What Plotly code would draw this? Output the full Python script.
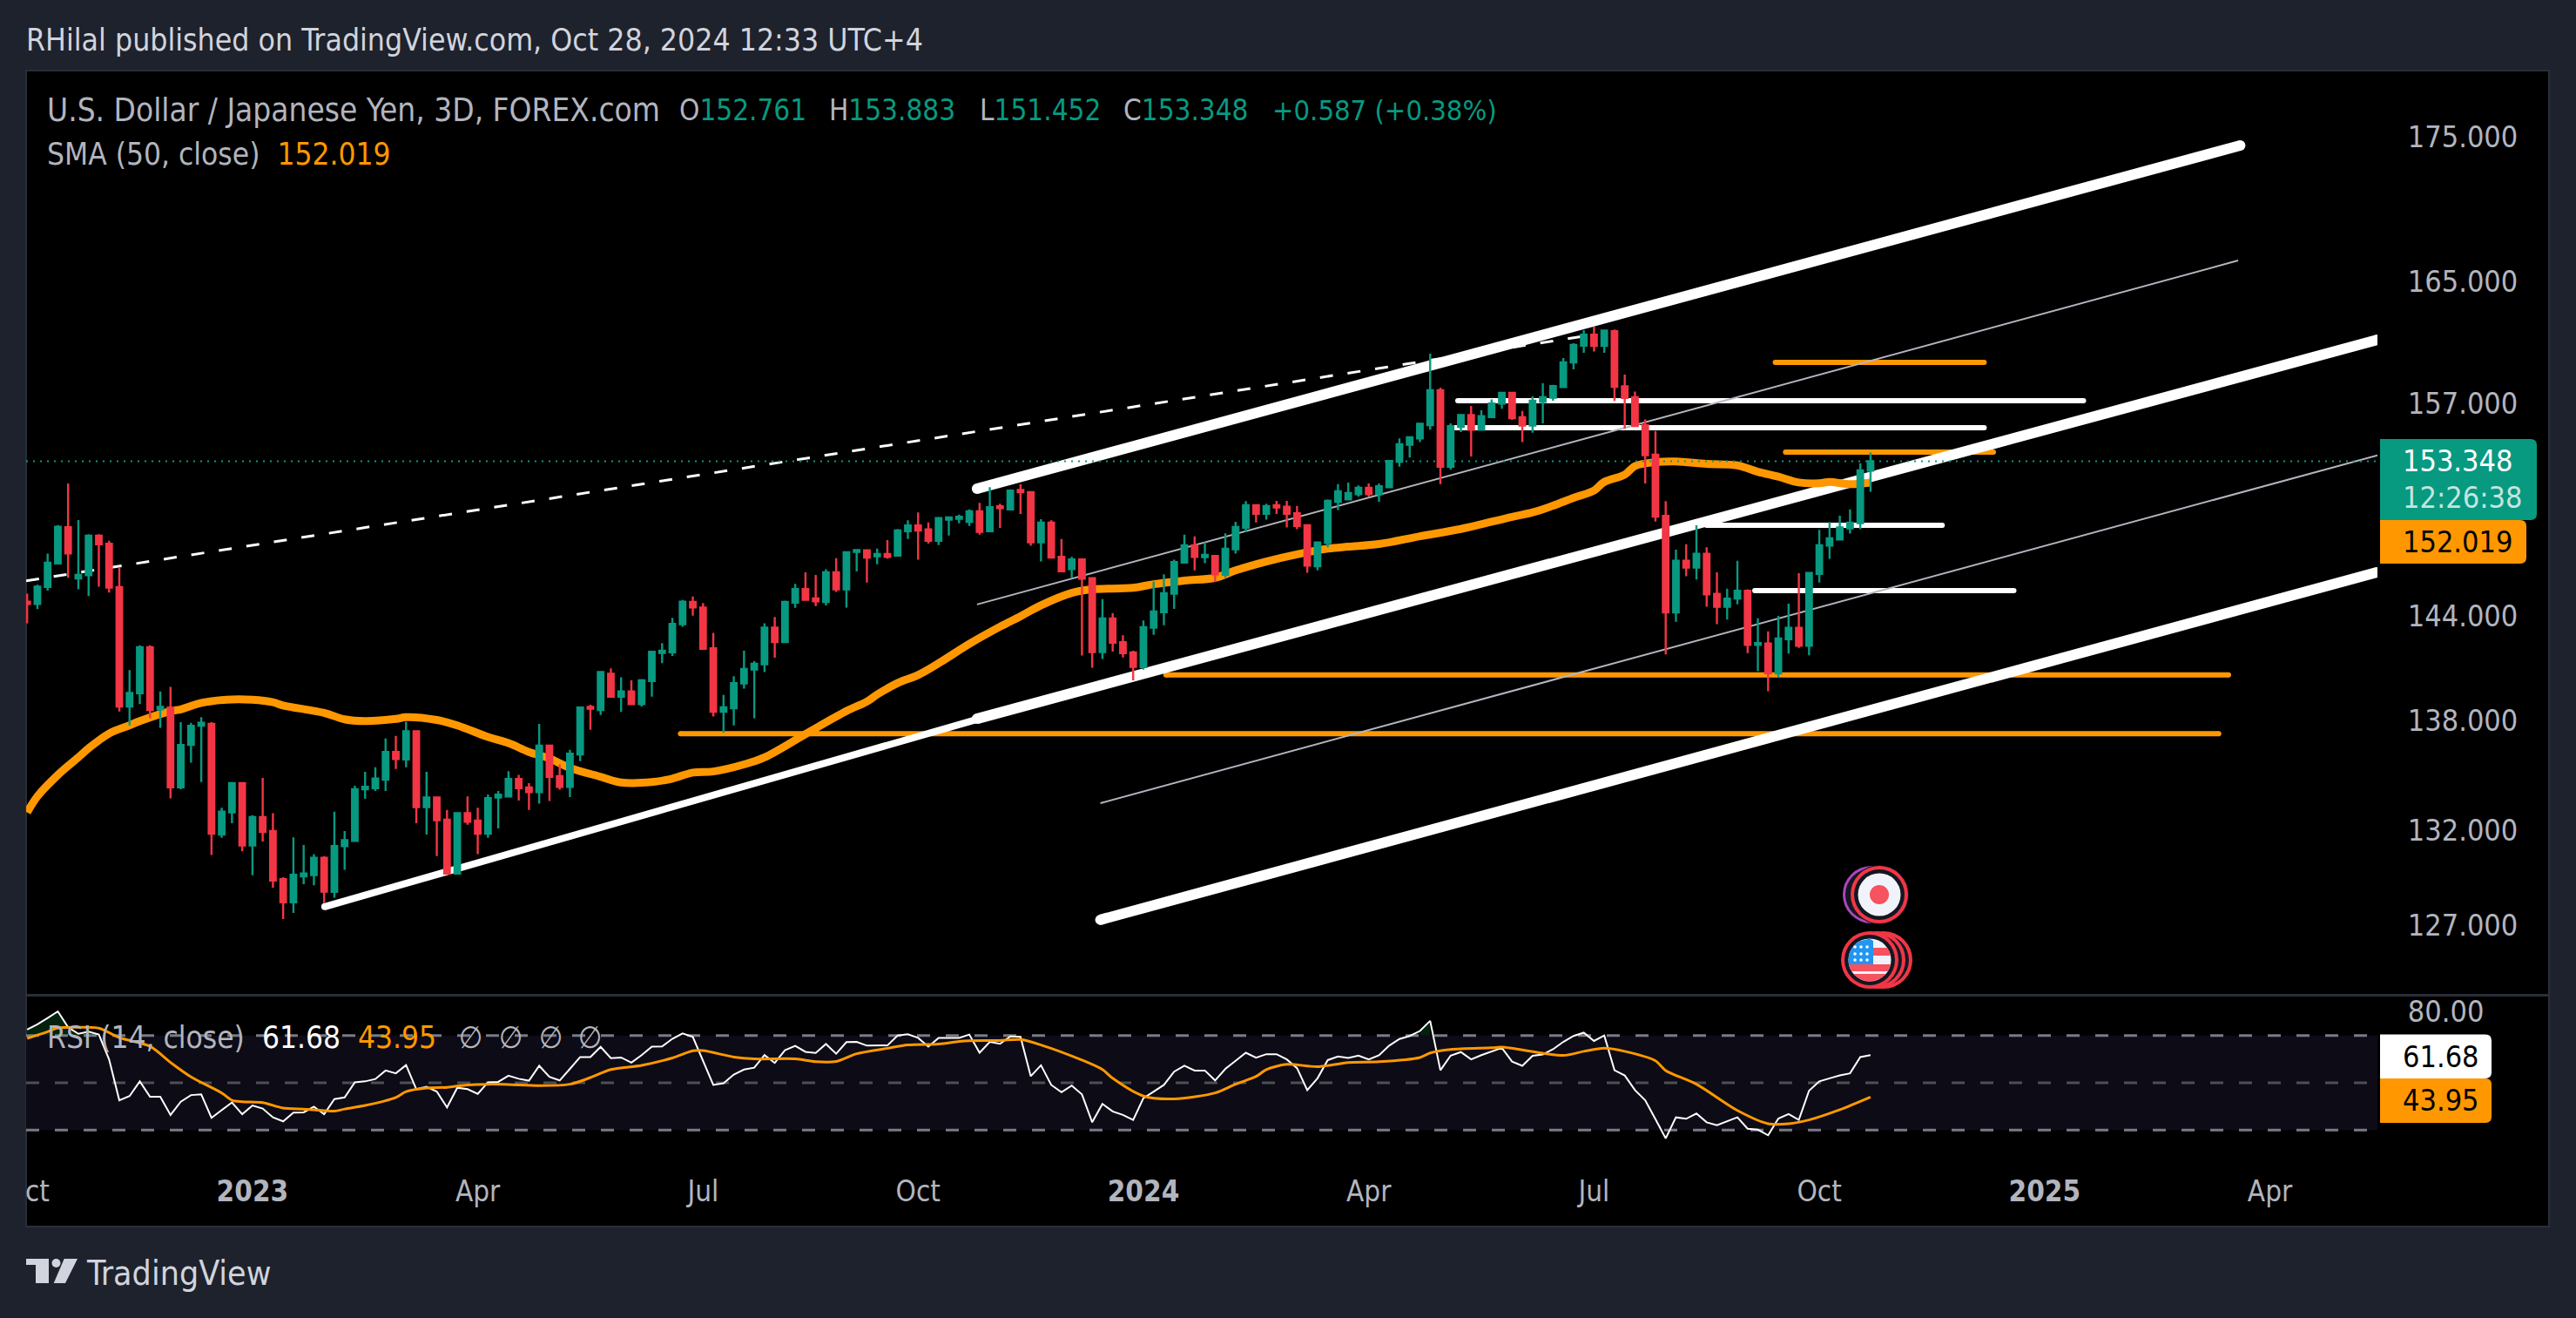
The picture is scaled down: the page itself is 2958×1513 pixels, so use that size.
import math
import numpy as np
import plotly.graph_objects as go

W, H = 2958, 1513

# ---------- price data (3D bars) ----------
open_ = [144.83,144.70,145.70,147.11,149.29,146.21,146.40,148.77,148.29,145.70,
138.79,139.54,142.18,138.63,138.73,134.30,136.64,137.71,137.81,131.75,
132.94,134.53,131.17,132.69,131.94,129.38,128.17,129.53,129.59,130.51,
128.71,131.13,131.41,134.20,134.26,134.72,136.25,135.84,137.40,133.23,
133.75,132.55,129.68,132.90,132.50,131.79,133.75,133.81,134.76,134.30,
134.04,136.60,134.92,134.33,136.11,138.77,138.59,140.65,139.34,139.64,
138.93,140.24,141.84,141.88,143.51,144.82,144.49,142.12,138.49,138.69,
140.10,140.90,141.20,143.32,142.47,144.78,145.58,145.03,144.82,146.57,
145.56,147.80,147.89,
147.53,147.67,147.58,149.04,149.39,149.15,148.46,149.75,149.80,149.62,150.26,149.04,150.56,150.37,151.57,151.43,148.37,149.57,147.50,146.77,147.34,146.22,141.90,143.85,142.47,141.88,141.03,143.31,144.22,145.30,147.15,148.20,147.48,147.55,146.43,147.95,149.25,150.63,150.10,150.63,150.54,150.14,149.41,146.94,148.34,150.84,150.99,151.30,151.70,151.30,151.74,153.32,154.38,154.78,155.62,157.84,153.00,155.51,156.25,155.33,156.12,156.99,157.67,156.12,155.59,157.10,157.36,158.04,159.64,160.73,161.45,160.71,
161.68,158.09,157.39,155.60,153.76,149.98,144.20,147.26,146.86,147.68,145.30,144.54,145.02,145.48,142.31,142.39,140.67,142.64,143.30,142.26,146.48,148.17,148.55,149.22,149.54,152.761]

high = [145.31,145.83,147.70,149.42,151.96,149.72,148.86,148.86,148.47,146.85,
140.86,142.29,142.29,139.64,139.90,137.91,137.87,138.19,137.91,133.19,
134.53,134.53,132.79,134.82,132.90,129.48,131.60,131.19,130.70,130.60,
132.98,131.94,134.39,135.15,135.41,137.00,137.14,137.93,137.40,135.15,
133.81,133.08,132.92,133.81,133.19,133.91,134.10,135.19,134.98,134.53,
137.81,136.64,135.56,136.37,138.77,138.89,140.75,140.96,140.45,140.28,
140.35,141.94,142.41,143.88,144.93,145.14,144.76,143.01,139.44,140.51,
141.98,141.37,143.57,143.94,144.89,145.89,146.57,146.42,146.76,147.42,
147.80,147.91,147.89,
147.99,148.51,149.18,149.71,150.19,149.57,149.89,149.89,150.05,150.37,150.78,151.74,150.72,151.61,151.92,151.48,149.78,149.71,148.57,147.50,147.34,146.22,144.99,144.16,142.87,141.97,143.73,146.03,146.46,147.33,148.83,148.73,148.37,147.60,148.92,149.62,150.88,150.66,150.72,150.89,150.89,150.58,149.41,148.41,150.99,151.92,152.02,151.84,151.97,151.97,153.41,154.78,154.85,155.77,160.20,158.01,155.73,156.28,156.84,156.56,157.25,157.73,157.67,156.51,157.45,158.29,158.19,159.92,160.88,161.74,161.97,161.78,
161.78,158.85,157.76,155.98,155.24,150.88,147.93,148.26,149.40,148.08,146.57,145.60,147.26,145.57,143.86,143.10,144.00,144.71,146.52,146.57,149.13,149.60,149.99,150.37,153.22,153.883]

low = [143.57,144.40,145.49,147.11,146.25,145.56,145.16,145.72,145.37,138.51,
137.73,138.93,138.13,137.59,133.70,134.20,135.66,134.59,130.66,131.57,
132.36,130.85,129.59,131.38,128.93,127.30,127.61,129.12,129.06,128.13,
128.41,129.87,131.38,133.68,134.10,134.10,135.31,135.41,132.36,131.75,
130.60,129.68,129.68,132.27,130.70,131.57,132.08,133.77,133.58,133.08,
133.42,133.56,134.18,133.77,135.74,137.48,138.31,139.30,138.49,138.89,
138.79,139.34,141.26,141.67,143.36,144.01,142.08,138.23,137.32,137.73,
139.80,138.13,140.75,141.57,142.45,144.47,144.95,144.57,144.61,145.41,
144.49,146.63,145.97,
147.05,147.39,147.58,148.57,147.33,148.30,148.21,148.78,149.52,149.36,148.83,149.04,149.25,150.37,150.10,148.16,147.22,147.41,146.63,146.25,141.70,141.00,141.50,141.93,141.58,140.27,140.88,142.89,143.45,144.41,147.10,146.69,147.12,145.99,146.25,147.69,149.00,149.57,149.75,150.10,149.27,149.16,146.55,146.69,148.07,150.33,150.99,151.16,151.16,150.84,151.70,153.00,153.58,154.55,155.33,151.92,152.83,155.18,153.65,155.33,156.12,156.65,155.95,154.55,155.14,155.73,157.17,157.97,159.19,160.26,160.35,160.26,
157.16,155.40,155.56,151.97,149.63,141.76,143.66,146.34,146.14,144.54,143.52,143.78,144.68,141.84,140.80,139.65,140.42,141.81,142.14,141.71,145.96,147.38,148.48,148.90,149.17,151.452]

close = [144.70,145.72,147.15,149.31,147.70,146.42,148.77,148.25,145.66,138.79,
139.56,142.18,138.59,138.77,134.30,136.64,137.71,137.87,131.79,132.98,
134.53,131.17,132.69,131.89,129.31,128.17,129.61,129.68,130.51,128.73,
131.13,131.45,134.20,134.33,134.78,136.25,135.86,137.40,133.23,133.75,
132.52,129.68,132.90,132.44,131.79,133.71,133.91,134.76,134.26,134.04,
136.60,134.88,134.33,136.15,138.73,138.67,140.75,139.34,139.64,138.93,
140.28,141.92,141.98,143.53,144.84,144.49,142.08,138.49,138.75,140.12,
140.92,141.22,143.32,142.47,144.82,145.58,144.95,144.86,146.57,145.56,
147.78,147.91,147.46,
147.67,147.50,149.09,149.39,149.09,148.46,149.85,149.89,149.92,150.26,149.00,150.51,150.45,151.52,151.43,148.37,149.57,147.46,146.63,147.34,146.20,141.90,143.85,142.44,141.83,141.05,143.34,144.26,145.34,147.19,148.20,147.50,147.62,146.46,147.99,149.30,150.63,150.10,150.58,150.49,150.10,149.36,146.98,148.37,150.90,151.48,151.38,151.70,151.30,151.79,153.36,154.41,154.85,155.70,157.84,153.00,155.55,156.25,155.33,156.19,156.99,157.67,156.06,155.59,157.17,157.40,158.10,159.64,160.77,161.45,160.71,161.72,
158.06,157.35,155.56,153.73,149.93,144.20,147.26,146.86,147.68,145.26,144.54,145.02,145.48,142.31,142.42,140.67,142.68,143.30,142.26,146.54,148.20,148.61,149.27,149.57,152.78,153.348]

assert len(open_) == len(high) == len(low) == len(close), (len(open_), len(high), len(low), len(close))
bars = list(range(len(close)))

# SMA(50) readings: bar number and value
sma_bars = [0,1,3,5,6,8,10,11,14,15,17,20,22,24,25,29,31,33,36,37,40,42,45,47,49,51,53,56,58,61,63,65,67,70,72,76,80,82,
83,85,87,89,92,95,97,99,102,104,108,110,113,116,118,121,124,127,129,132,136,140,145,147,149,151,153,154,156,157,159,161,164,167,169,171,173,175,176,178,180]
sma_vals = [132.94,133.81,134.98,135.95,136.45,137.27,137.73,137.97,138.53,138.63,138.99,139.19,139.17,139.03,138.85,138.43,138.07,137.97,138.09,138.19,138.03,137.73,137.08,136.74,136.25,135.89,135.37,134.88,134.57,134.59,134.78,135.11,135.17,135.56,135.95,137.24,138.53,139.07,
139.47,140.12,140.58,141.25,142.37,143.37,143.98,144.62,145.35,145.56,145.65,145.87,146.08,146.25,146.69,147.22,147.65,147.99,148.11,148.27,148.74,149.18,149.92,150.19,150.60,151.08,151.53,152.06,152.51,153.05,153.29,153.33,153.18,153.09,152.69,152.39,152.03,151.98,152.06,151.92,152.019]

# RSI(14) per bar
rsi = [72.5,74.7,77.4,80.2,73.5,70.7,71.6,70.4,59.9,42.6,44.4,50.6,44.1,44.1,36.4,42.0,44.8,45.1,35.2,38.5,
41.7,36.7,40.4,39.1,35.4,33.7,37.4,37.5,39.9,36.7,43.1,43.8,50.2,50.6,51.6,55.2,54.0,57.5,47.3,48.3,
46.3,39.6,47.9,47.3,45.3,50.2,50.4,53.0,51.7,50.9,57.2,52.5,51.0,55.9,60.9,60.9,65.2,60.4,60.7,58.5,
61.7,65.3,65.4,68.6,70.9,69.4,59.3,49.1,49.8,53.5,55.6,56.4,61.7,58.4,63.8,65.6,63.1,62.6,66.4,62.3,
67.2,67.3,65.7,65.7,65.8,70.0,70.5,69.0,65.3,69.0,69.0,
69.0,70.4,62.7,67.3,66.5,69.6,69.4,52.8,57.4,49.1,46.0,48.8,45.1,33.3,41.1,37.9,36.4,34.3,43.5,46.3,
49.1,54.7,57.2,55.2,55.2,51.0,55.9,59.3,62.7,60.6,62.1,62.1,59.9,56.2,46.9,51.9,59.6,61.1,60.5,61.5,
59.9,61.6,65.7,68.5,69.8,71.9,76.2,55.3,61.5,63.0,59.9,61.7,63.3,64.8,59.0,57.2,61.4,62.0,64.2,67.3,
69.8,71.2,67.7,70.0,55.3,53.1,46.9,42.6,34.6,26.5,35.4,34.8,37.0,33.3,32.1,33.7,35.4,30.6,30.2,27.8,
34.9,36.8,34.3,46.7,50.6,51.9,53.1,54.0,60.9,61.68]
assert len(rsi) == len(close), len(rsi)

rsi_ma_bars = [0,2,3,5,7,9,12,14,16,19,20,21,23,25,27,28,30,31,33,36,37,39,41,43,45,47,50,53,55,57,60,63,65,66,69,71,75,77,79,81,84,86,89,
91,92,95,97,99,103,105,106,109,112,116,118,120,121,123,126,129,132,136,137,139,143,144,150,152,154,156,159,160,163,167,170,172,174,177,180]
rsi_ma_vals = [68.8,71.6,73.2,73.5,73.1,69.1,65.4,58.6,52.5,45.7,42.6,42.0,41.6,39.3,38.9,38.6,38.0,38.9,40.4,43.8,46.3,47.8,48.1,49.1,49.4,49.3,48.8,49.4,52.2,55.6,57.4,60.5,63.5,63.6,60.9,60.1,60.1,58.9,59.0,62.3,64.6,66.0,66.4,
67.5,67.8,67.9,68.3,66.0,59.6,55.6,51.9,44.4,43.2,45.7,49.4,52.7,55.6,57.8,56.8,58.6,58.9,60.7,62.6,64.1,64.8,65.1,61.6,63.3,64.6,63.3,59.3,55.2,49.4,38.3,32.7,32.7,34.3,38.6,43.95]

# Drawing tools: (bar0, price0, bar1, price1)
support_line = (29.06,127.94,92.75,138.06)
thick_lines = [(92.75,138.10,229.5,161.11),(92.75,151.64,216.1,174.36),(104.8,127.26,229.5,146.58)]
thin_lines = [(92.75,144.67,215.9,166.39),(104.8,133.44,229.5,153.72)]
dashed_line = (-0.1,146.07,152.96,161.45)
white_levels = [(139.7,200.8,157.17),(139.0,191.1,155.45),(164.0,187.0,149.40),(168.7,194.0,145.49)]
orange_levels = [(170.7,191.1,159.64),(171.7,192.0,153.91),(111.2,214.96,140.58),(63.8,214.0,137.27)]

price_ticks = [127,132,138,144,157,165,175]
time_tick_bars = [0,22,44,66,87,109,131,153,175,197,219]
time_tick_text = ["Oct","<b>2023</b>","Apr","Jul","Oct","<b>2024</b>","Apr","Jul","Oct","<b>2025</b>","Apr"]
last_close, last_sma, last_rsi, last_rsi_ma = 153.348, 152.019, 61.68, 43.95

# ---------- styles / layout constants ----------
BG, PANEL, EDGE = "#1e222d", "#000000", "#2a2e39"
TXT, TITLE = "#b2b5be", "#d1d4dc"
UP, DOWN, ORANGE = "#089981", "#f23645", "#ff9800"
FONT = "DejaVu Sans Condensed, DejaVu Sans, sans-serif"
FS = 35
X_L, X_R = 30, 2730
PANEL_T, PANEL_B, PANEL_R = 81, 1408, 2927
DIV = 1143
RSI_B = 1337
BAR_L, BAR_R = -0.1, 229.5

px = lambda x: x / W
py = lambda y: 1 - y / H
def yprice(y):
    return 175 * math.exp(-(y - 156.6) / 2823)
rsi_at = lambda y: 50 + (1243 - y) / 2.715

fig = go.Figure()

def line(x, y, color, width, dash=None, caps=False, xa="x", ya="y"):
    fig.add_trace(go.Scatter(x=x, y=y, xaxis=xa, yaxis=ya, mode="lines+markers" if caps else "lines",
                             line=dict(color=color, width=width, dash=dash),
                             marker=dict(color=color, size=width) if caps else None,
                             hoverinfo="skip", showlegend=False))

for b0, b1, p in orange_levels:
    line([b0, b1], [p, p], ORANGE, 6, caps=True)
line([dashed_line[0], dashed_line[2]], [dashed_line[1], dashed_line[3]], "#ffffff", 3, dash="15px,17px")
for b0, b1, p in white_levels:
    line([b0, b1], [p, p], "#ffffff", 6, caps=True)
line([support_line[0], support_line[2]], [support_line[1], support_line[3]], "#ffffff", 8, caps=True)
for b0, p0, b1, p1 in thick_lines:
    line([b0, b1], [p0, p1], "#ffffff", 12, caps=True)
for b0, p0, b1, p1 in thin_lines:
    line([b0, b1], [p0, p1], "#b2b5be", 2)
fig.add_trace(go.Scatter(x=sma_bars, y=sma_vals, mode="lines", line=dict(color=ORANGE, width=9, shape="spline", smoothing=1.0),
                         hoverinfo="skip", showlegend=False))
line([BAR_L, BAR_R], [last_close, last_close], UP, 2, dash="2px,6px")

# candles on an overlaid axis pair so they are painted above the lines
fig.add_trace(go.Candlestick(x=bars, open=open_, high=high, low=low, close=close, xaxis="x3", yaxis="y3",
                             increasing=dict(line=dict(color=UP, width=2.4), fillcolor=UP),
                             decreasing=dict(line=dict(color=DOWN, width=2.4), fillcolor=DOWN),
                             hoverinfo="skip", showlegend=False))

# RSI over/under-band shading
def band_fill(level, sign, color):
    run = []
    for i in range(len(rsi)):
        if sign * (rsi[i] - level) > 0:
            run.append(i)
        elif run:
            xs = [run[0]] + run + [run[-1]]
            ys = [level] + [rsi[k] for k in run] + [level]
            fig.add_trace(go.Scatter(x=xs, y=ys, xaxis="x2", yaxis="y2", mode="lines", fill="toself", fillcolor=color,
                                     line=dict(width=0), hoverinfo="skip", showlegend=False))
            run = []
band_fill(70, 1, "rgba(8,153,60,0.22)")
band_fill(30, -1, "rgba(242,54,69,0.18)")
line(bars, rsi, "#ffffff", 2, xa="x2", ya="y2")
fig.add_trace(go.Scatter(x=rsi_ma_bars, y=rsi_ma_vals, xaxis="x2", yaxis="y2", mode="lines",
                         line=dict(color=ORANGE, width=3, shape="spline", smoothing=0.8), hoverinfo="skip", showlegend=False))

# ---------- shapes ----------
shapes = []
def rect(x0, y0, x1, y1, fill, layer="below", ln=None, lw=0):
    shapes.append(dict(type="rect", xref="paper", yref="paper", x0=px(x0), x1=px(x1), y0=py(y0), y1=py(y1),
                       fillcolor=fill, layer=layer, line=dict(color=ln or fill, width=lw)))
def rrect(x0, y0, x1, y1, fill, r=7):
    p = (f"M {px(x0)} {py(y0)} L {px(x1-r)} {py(y0)} Q {px(x1)} {py(y0)} {px(x1)} {py(y0+r)} "
         f"L {px(x1)} {py(y1-r)} Q {px(x1)} {py(y1)} {px(x1-r)} {py(y1)} L {px(x0)} {py(y1)} Z")
    shapes.append(dict(type="path", xref="paper", yref="paper", path=p, fillcolor=fill, layer="above", line=dict(width=0)))
def circ(cx, cy, r, fill):
    shapes.append(dict(type="circle", xref="paper", yref="paper", x0=px(cx-r), x1=px(cx+r), y0=py(cy-r), y1=py(cy+r),
                       fillcolor=fill, layer="above", line=dict(width=0)))
def stripe(cx, cy, r, top, bot, fill, xmax=None):
    ys = np.linspace(top, bot, 12)
    right = [(min(math.sqrt(max(r*r-v*v, 0)), xmax if xmax is not None else 1e9), v) for v in ys]
    left = [(-math.sqrt(max(r*r-v*v, 0)), v) for v in ys[::-1]]
    pts = right + left
    d = "M " + " L ".join(f"{px(cx+a)} {py(cy+b)}" for a, b in pts) + " Z"
    shapes.append(dict(type="path", xref="paper", yref="paper", path=d, fillcolor=fill, layer="above", line=dict(width=0)))

rect(X_L, PANEL_T, PANEL_R, PANEL_B, PANEL, ln=EDGE, lw=2)
# RSI band and levels (through the axes)
shapes.append(dict(type="rect", xref="x2", yref="y2", x0=BAR_L, x1=BAR_R, y0=30, y1=70, fillcolor="#0d0b15", layer="below", line=dict(width=0)))
for lvl, col in [(70, "#787b86"), (50, "#4d4f57"), (30, "#787b86")]:
    shapes.append(dict(type="line", xref="x2", yref="y2", x0=BAR_L, x1=BAR_R, y0=lvl, y1=lvl, layer="below",
                       line=dict(color=col, width=3, dash="15px,18px")))
# page gutters, mask clipped axis text
rect(0, 0, X_L-1, H, BG, layer="above")
rect(X_L, DIV-2, PANEL_R, DIV+1, EDGE, layer="above")
# price & RSI value badges
rrect(2733, 504, 2913, 597, UP)
rrect(2733, 597, 2901, 647, ORANGE)
rrect(2733, 1187.5, 2861, 1238, "#ffffff")
rrect(2733, 1238, 2861, 1289, ORANGE)

# event icons
JP = (2158, 1027)
circ(JP[0]-9, JP[1], 33, "#ab47bc"); circ(JP[0]-9, JP[1], 30, "#131722")
circ(JP[0], JP[1], 34, "#131722"); circ(JP[0], JP[1], 33, "#f23645"); circ(JP[0], JP[1], 29, "#131722")
circ(JP[0], JP[1], 24.5, "#f0f3fa"); circ(JP[0], JP[1], 11, "#f7525f")
US = (2147, 1102)
for off in (16, 8, 0):
    circ(US[0]+off, US[1], 33, "#f23645"); circ(US[0]+off, US[1], 29, "#131722")
R = 24.5
circ(US[0], US[1], R, "#f0f3fa")
for t, b in [(-14, -5), (5, 13), (16, 24.5)]:
    stripe(US[0], US[1], R, t, b, "#f7525f")
stripe(US[0], US[1], R, -24.5, 5, "#2196f3", xmax=4)
for a in (-17, -10, -3):
    for b in (-15, -7, 0):
        circ(US[0]+a, US[1]+b, 1.8, "#ffffff")

# TradingView logo
def poly(pts, fill):
    d = "M " + " L ".join(f"{px(a)} {py(b)}" for a, b in pts) + " Z"
    shapes.append(dict(type="path", xref="paper", yref="paper", path=d, fillcolor=fill, layer="above", line=dict(width=0)))
poly([(30,1445),(56,1445),(56,1473),(41,1473),(41,1452),(30,1452)], TITLE)
circ(64.5, 1450, 5, TITLE)
poly([(73.7,1445),(89,1445),(75,1473),(61.7,1473)], TITLE)

# ---------- text ----------
def span(t, c):
    return f'<span style="color:{c}">{t}</span>'
annos = []
def note(x, y, text, color=TXT, size=FS):
    annos.append(dict(xref="paper", yref="paper", x=px(x), y=py(y), xanchor="left", yanchor="middle", text=text,
                      showarrow=False, align="left", font=dict(family=FONT, size=size, color=color)))
sp = "\u00a0\u00a0"
note(28, 45, "RHilal published on TradingView.com, Oct 28, 2024 12:33 UTC+4", TITLE, 35.3)
note(52, 127, "U.S. Dollar / Japanese Yen, 3D, FOREX.com", TXT, 36.7)
for x, lab, val in [(778, "O", "152.761"), (950, "H", "153.883"), (1123, "L", "151.452"), (1288, "C", "153.348")]:
    note(x, 127, lab + span(val, UP), TXT, 33)
note(1459, 127, "+0.587 (+0.38%)", UP, 32.5)
note(52, 177, "SMA (50, close)" + sp + span("152.019", ORANGE))
note(52, 1191, "RSI (14, close)" + sp + span("61.68", "#ffffff") + sp + span("43.95", ORANGE))
for x in (525, 571, 617, 662):
    note(x, 1191, "∅")
TF = 34
note(2757, 529, "153.348", "#ffffff", TF)
note(2757, 571, "12:26:38", "#c4e5df", TF)
note(2757, 622, "152.019", "#000000", TF)
note(2757, 1213, "61.68", "#000000", TF)
note(2757, 1263, "43.95", "#000000", TF)
note(97, 1461, "TradingView", TITLE, 39)

price_range = [math.log10(yprice(DIV)), math.log10(yprice(PANEL_T))]
xdom = [px(X_L), px(X_R)]

fig.update_layout(
    template="none",
    width=W, height=H, autosize=False, margin=dict(l=0, r=0, t=0, b=0, pad=0),
    paper_bgcolor=BG, plot_bgcolor="rgba(0,0,0,0)", showlegend=False, hovermode=False,
    boxgap=0.22, font=dict(family=FONT, size=FS, color=TXT),
    shapes=shapes, annotations=annos,
    xaxis=dict(domain=xdom, range=[BAR_L, BAR_R], anchor="y", showgrid=False, zeroline=False, showticklabels=False, automargin=False,
               ticks="", showline=False, rangeslider=dict(visible=False)),
    yaxis=dict(domain=[py(DIV), py(PANEL_T)], type="log", range=price_range, anchor="x", side="right", showgrid=False, zeroline=False, automargin=False,
               tickmode="array", tickvals=price_ticks, ticktext=[f"{t}.000" for t in price_ticks],
               ticks="outside", ticklen=27, tickcolor="rgba(0,0,0,0)", tickfont=dict(family=FONT, size=TF, color=TXT), showline=False),
    xaxis3=dict(domain=xdom, range=[BAR_L, BAR_R], anchor="y3", overlaying="x", visible=False, automargin=False, rangeslider=dict(visible=False)),
    yaxis3=dict(domain=[py(DIV), py(PANEL_T)], type="log", range=price_range, anchor="x3", overlaying="y", visible=False, automargin=False, side="right"),
    xaxis2=dict(domain=xdom, range=[BAR_L, BAR_R], anchor="y2", showgrid=False, zeroline=False, showline=False, automargin=False,
                tickmode="array", tickvals=time_tick_bars, ticktext=time_tick_text, ticks="outside", ticklen=1,
                tickcolor="rgba(0,0,0,0)", tickangle=0, tickfont=dict(family=FONT, size=33, color=TXT)),
    yaxis2=dict(domain=[py(RSI_B), py(DIV+2)], range=[rsi_at(RSI_B), rsi_at(DIV+2)], anchor="x2", side="right", showgrid=False, zeroline=False, automargin=False,
                tickmode="array", tickvals=[80], ticktext=["80.00"], ticks="outside", ticklen=27, tickcolor="rgba(0,0,0,0)",
                tickfont=dict(family=FONT, size=TF, color=TXT), showline=False),
)
fig.write_html("out.html", post_script="document.body.style.margin='0';", config={"displayModeBar": False})
